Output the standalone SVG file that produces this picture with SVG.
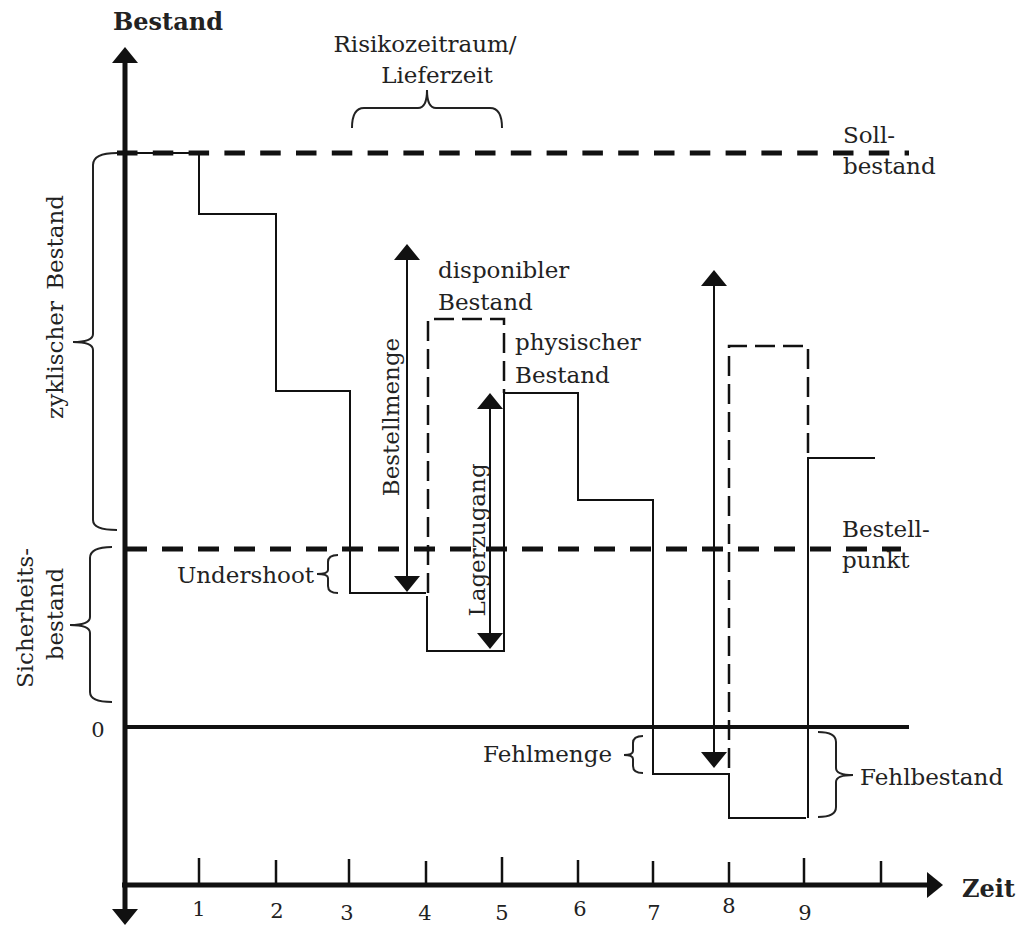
<svg xmlns="http://www.w3.org/2000/svg" width="1018" height="928" viewBox="0 0 1018 928">
<style>
  text { font-family: "DejaVu Serif", "Liberation Serif", serif; font-size: 23px; fill: #222; }
  .bold { font-weight: bold; font-size: 24px; }
  .num { font-size: 21px; }
  .axis { stroke: #111; stroke-width: 5; fill: none; }
  .tick { stroke: #111; stroke-width: 2.5; }
  .level { stroke: #111; stroke-width: 5; fill: none; }
  .zero { stroke: #111; stroke-width: 4; fill: none; }
  .curve { stroke: #111; stroke-width: 2; fill: none; }
  .dispo { stroke: #111; stroke-width: 2.5; fill: none; stroke-dasharray: 20 8; }
  .brace { stroke: #222; stroke-width: 2; fill: none; }
  .meas { stroke: #111; stroke-width: 2; fill: none; marker-start: url(#arr); marker-end: url(#arr); }
  .head { fill: #111; }
</style>
<defs>
  <marker id="arr" viewBox="0 0 16 26" refX="8" refY="13" markerWidth="16" markerHeight="26" markerUnits="userSpaceOnUse" orient="auto-start-reverse">
    <path d="M0,0 L16,13 L0,26 z" fill="#111"/>
  </marker>
</defs>
<rect width="1018" height="928" fill="#fff"/>

<g id="levels">
  <line class="level" x1="117" y1="153" x2="909" y2="153" stroke-dasharray="20.5 15.3"/>
  <line class="level" x1="126" y1="549" x2="901" y2="549" stroke-dasharray="21 15"/>
  <line class="zero" x1="125" y1="727" x2="909" y2="727"/>
</g>

<g id="axes">
  <line class="axis" x1="125" y1="63" x2="125" y2="909"/>
  <polygon class="head" points="125,47 112,63 138,63"/>
  <polygon class="head" points="125,925 112,909 138,909"/>
  <line class="axis" x1="122" y1="885" x2="927" y2="885"/>
  <polygon class="head" points="943,885 927,872 927,898"/>
  <g id="ticks">
    <line class="tick" x1="199" y1="858" x2="199" y2="885"/>
    <line class="tick" x1="276" y1="860" x2="276" y2="885"/>
    <line class="tick" x1="349" y1="859" x2="349" y2="885"/>
    <line class="tick" x1="426" y1="861" x2="426" y2="885"/>
    <line class="tick" x1="502" y1="857" x2="502" y2="885"/>
    <line class="tick" x1="578" y1="860" x2="578" y2="885"/>
    <line class="tick" x1="653" y1="861" x2="653" y2="885"/>
    <line class="tick" x1="729" y1="862" x2="729" y2="885"/>
    <line class="tick" x1="804" y1="858" x2="804" y2="885"/>
    <line class="tick" x1="881" y1="861" x2="881" y2="885"/>
  </g>
</g>

<g id="connectors">
  <path class="curve" d="M125,153 H199 V214 H276 V391 H350 V593 H426"/>
  <path class="curve" d="M427,596 V651 H504 V393 H578 V500 H653 V774 H729 V818 H806"/>
  <line class="curve" x1="427" y1="596" x2="427" y2="651" stroke-width="3"/>
  <path class="curve" d="M808,818 V458 H875"/>
  <path class="dispo" d="M428,593 V319 H504 V393"/>
  <path class="dispo" d="M729,768 V346 H808 V458"/>
  <line class="meas" x1="407" y1="252" x2="407" y2="584"/>
  <line class="meas" x1="490" y1="401" x2="490" y2="641"/>
  <line class="meas" x1="714" y1="278" x2="714" y2="760"/>
</g>

<g id="braces">
  <path class="brace" d="M352,128 Q352,108 364,108 H418 Q427,108 427,90 Q427,108 436,108 H490 Q502,108 502,128"/>
  <path class="brace" d="M117,153 Q93,153 93,165 V334 Q93,342 73,342 Q93,342 93,350 V520 Q93,530 117,530"/>
  <path class="brace" d="M112,547 Q90,547 90,558 V617 Q90,625 70,625 Q90,625 90,633 V692 Q90,702 112,702"/>
  <path class="brace" d="M338,555 Q328,555 328,562 V570 Q328,574 317,574 Q328,574 328,578 V586 Q328,593 338,593"/>
  <path class="brace" d="M643,736 Q633,736 633,743 V751 Q633,755 624,755 Q633,755 633,759 V766 Q633,773 643,773"/>
  <path class="brace" d="M818,732 Q836,732 836,742 V768 Q836,775 853,775 Q836,775 836,782 V807 Q836,817 818,817"/>
</g>

<g id="labels">
  <text class="bold" x="113" y="30">Bestand</text>
  <text class="bold" x="962" y="897">Zeit</text>
  <text x="425" y="52" text-anchor="middle">Risikozeitraum/</text>
  <text x="437" y="83" text-anchor="middle">Lieferzeit</text>
  <text x="843" y="143">Soll-</text>
  <text x="843" y="174">bestand</text>
  <text x="438" y="278">disponibler</text>
  <text x="438" y="310">Bestand</text>
  <text x="515" y="350">physischer</text>
  <text x="515" y="383">Bestand</text>
  <text x="842" y="537">Bestell-</text>
  <text x="842" y="568">punkt</text>
  <text x="314" y="583" text-anchor="end">Undershoot</text>
  <text x="612" y="762" text-anchor="end">Fehlmenge</text>
  <text x="860" y="785">Fehlbestand</text>
  <text class="num" x="98" y="737" text-anchor="middle">0</text>
  <text transform="translate(63,307) rotate(-90)" text-anchor="middle" word-spacing="4">zyklischer Bestand</text>
  <text transform="translate(33,618) rotate(-90)" text-anchor="middle">Sicherheits-</text>
  <text transform="translate(63,614) rotate(-90)" text-anchor="middle">bestand</text>
  <text transform="translate(399,417) rotate(-90)" text-anchor="middle">Bestellmenge</text>
  <text transform="translate(485,540) rotate(-90)" text-anchor="middle">Lagerzugang</text>
  <g id="ticklabels" class="num" text-anchor="middle">
    <text class="num" x="199" y="916">1</text>
    <text class="num" x="277" y="918">2</text>
    <text class="num" x="347" y="920">3</text>
    <text class="num" x="425" y="920">4</text>
    <text class="num" x="502" y="920">5</text>
    <text class="num" x="580" y="916">6</text>
    <text class="num" x="654" y="920">7</text>
    <text class="num" x="729" y="913">8</text>
    <text class="num" x="805" y="920">9</text>
  </g>
</g>
</svg>
